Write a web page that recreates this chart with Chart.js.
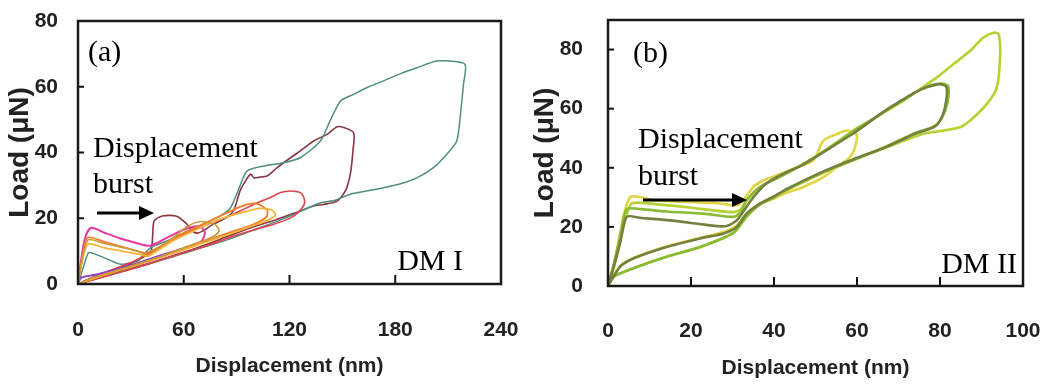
<!DOCTYPE html>
<html>
<head>
<meta charset="utf-8">
<script src="https://cdn.jsdelivr.net/npm/chart.js@4.4.1/dist/chart.umd.min.js"></script>
<style>
  html, body { margin:0; padding:0; background:#fff; }
  #wrap { position:relative; width:1049px; height:387px; overflow:hidden; }
  canvas { position:absolute; top:0; }
  #ca { left:0; }
  #cb { left:520px; }
</style>
</head>
<body>
<div id="wrap">
  <canvas id="ca" width="520" height="387"></canvas>
  <canvas id="cb" width="529" height="387"></canvas>
</div>
<script>
// ---------- Panel (a): DM I ----------
const A_X_TICKS = [0, 60, 120, 180, 240];
const A_Y_TICKS = [0, 20, 40, 60, 80];

const A_TEAL_X = [0,3,6,10,17,24,30,34,41,50,60,70,80,86.6,92,96,105.5,116,126,137.5,143,149,156.4,165,173.4,183,192.3,203.6,211,219.6,
  218.7,216.8,214.9,209.3,201.7,192.3,183,173.4,163,154.5,146,137.5,128,115,100,85,70,55,40,25,12,3,0];
const A_TEAL_Y = [0,5,9.5,9,7.5,6,6.5,7,11,13,15.5,18,20.5,23.2,30,34.4,35.9,36.8,38.4,43.5,49.6,55.7,57.7,60,61.8,64,65.8,67.8,67.8,66.8,
  60.7,50.6,43.5,39.5,35.4,32.3,30.5,29.3,28.2,27.3,25.5,24.7,22.5,19.5,16.5,13.5,11,8.5,6,3.8,2,0.5,0];

const A_MAROON_X = [0,5,15,25,35,41.3,42.3,43.2,47.9,55.5,61.1,64.9,68,72,76,80,85,88.5,92.3,97.9,99.8,103,107.4,113,120.6,126.2,133.7,141.3,147,150.7,156.4,
  156,154.5,151.7,147,139.4,133.7,125,112,100,85,70,55,40,25,12,0];
const A_MAROON_Y = [0,1.2,3,5,7.5,10,14.1,19.2,20.7,20.7,18.6,16.1,15.5,16.5,18,19,20.5,22.5,28.8,33.4,32.3,32.5,32.9,35.4,38.4,40.5,43.5,45.5,47.8,47.6,46,
  40.5,33.4,28.3,25.2,24.2,23.7,22,19.5,17.5,14.5,11.5,8.8,6.2,4,2,0];

const A_RED_X = [0,8,20,32,42,50,58,66,75,85,95,103,109.2,114.9,120.6,126.2,128.1,128.5,127.2,122.5,116.8,111.1,100,88,75,60,45,30,15,0];
const A_RED_Y = [0,2,4.5,7,10,12.5,14.5,16.5,18.5,20.5,23,25,26.3,27.8,28.3,27.8,26.3,24.5,23.2,20.7,19.2,18.2,16.5,14.5,12,9.5,7,4.5,2.2,0];

const A_ORANGE_X = [0,2,5.5,15,25,35,39.4,45,52,60,70,80,90,96,101,105,107.5,107,103,95,85,72,60,45,30,15,0];
const A_ORANGE_Y = [0,7,14.1,12.8,11.3,9.8,9,10.5,13,15.5,18,20.5,23,24.2,24.5,23.5,22.2,20.5,19,17.2,15.5,13,10.5,7.8,5.2,2.8,0];

const A_YELLOW_X = [0,2,5.5,15,25,35,40,46,55,65,75,85,95,103,110,112,108,98,85,70,55,40,25,12,0];
const A_YELLOW_Y = [0,6,12.1,11,10,9,8.5,10.5,13.5,16,18.5,20.5,22,23,22.5,21,19.5,17.5,15,12.3,9.5,7,4.5,2.3,0];

const A_GOLD_X = [0,3,6,15,28,38,45,55,62,70,78,80,75,65,50,35,20,8,0];
const A_GOLD_Y = [0,9,13.5,12.3,10.8,9.5,11,14.5,17.5,19,18,16,14,12,9,6.3,3.8,1.8,0];

const A_MAGENTA_X = [0,2,4,7.4,15,25,33,40.4,45,52,60,66,70,72,70,62,50,40,31.9,20,10,1.7,0];
const A_MAGENTA_Y = [0,8,14,17.1,15.6,13.7,12.5,11.6,12.5,14.5,16.5,17.5,17.3,15.5,13,11.2,9.2,7.5,6,4.2,2.8,1.9,0];

// ---------- Panel (b): DM II ----------
const B_X_TICKS = [0, 20, 40, 60, 80, 100];
const B_Y_TICKS = [0, 20, 40, 60, 80];

const B_YELLOW_X = [0,1.5,2.8,3.8,5.3,8,10.9,18,27,31,32.6,35,37.4,40.6,45.5,49.5,51.9,55.1,57.5,59.9,
  59.5,58.3,55.1,51.9,47.1,43,40.6,36.6,33.4,31,27.8,22.2,14.1,6.1,2.9,0];
const B_YELLOW_Y = [0,8,17,24,30.1,30,29,28.5,27.9,27.3,29,33.5,35.7,37.4,40.2,42.5,49.2,51.4,52.6,51.4,
  46.9,43.6,40.2,36.8,33.5,31.5,30.1,27.9,24.5,20.5,18.3,16.3,13.4,9.5,6.7,0];

const B_LIME_X = [0,1.5,3,4.5,5.8,10.9,20,30,32,33.4,36.6,41.5,47.1,51.1,55,59.1,63.1,67.2,71.2,75,79.2,83.2,87.2,90.4,92.9,94.1,
  94.5,93.7,91.3,87.2,84.8,80.8,76,67.2,59.1,51.1,43.1,40.6,36.6,33.4,30.2,22.2,14.1,6.1,1.3,0];
const B_LIME_Y = [0,7,16,24,28,27.8,26.5,25,26,29,33.5,37,41.3,44.7,48.5,52.6,55.9,59.3,62.7,66.5,70.5,75,79.5,84,85.7,85.2,
  78.4,67.2,61.6,55.9,53.7,52.6,51.5,46.9,42.5,37.8,32.4,30,27.6,23.5,18,13.2,9.9,6,3.1,0];

const B_GREEN_X = [0,1.5,3,4.5,8,14,23,30.2,32,33.4,36.6,41.5,47.1,51.1,55,59.1,63.1,67.2,71.2,75,78,80.5,82,
  81.8,80.5,78.5,74,67,59,51,43,40,36.6,33.4,30.2,22.2,14.1,6.1,1.3,0];
const B_GREEN_Y = [0,8,17,26,26,25.2,24.5,23.4,25,29,33.5,37,41.3,44.7,48.3,52.3,55.9,59.6,62.9,66.3,68,68.5,67.5,
  62,57,54,51.8,47.2,42.6,38,32.5,30,27.6,23.5,18,13.2,9.9,6,3.1,0];

const B_OLIVE_X = [0,1.5,3,4.5,8,14.9,22,27,29,31,33,35,38,42,47,51,55,59,63.1,67,71.2,74,76.8,80,81.6,
  81.2,80,78.4,74,67,59,51,43,40,36.6,33.4,31,27.8,22.2,14.1,6.1,2.9,0];
const B_OLIVE_Y = [0,7,15,23.4,23,22.2,21,20.2,20.5,22.2,26,30,34.5,37.8,41,44.5,48,51.5,55.6,59.5,63.2,65.5,67.2,68.3,67.2,
  60.4,55.9,53.7,51.5,47,42.8,38.2,32.8,30.3,27.9,24.5,20,17.8,16.1,13.2,9.3,6.5,0];

// ---------- helpers ----------
const SANS = "'Liberation Sans', Arial, sans-serif";
const SERIF = "'Liberation Serif', 'Times New Roman', serif";

function pts(xs, ys) { return xs.map((x, i) => ({ x: x, y: ys[i] })); }
function ds(xs, ys, color, width) {
  return { data: pts(xs, ys), borderColor: color, borderWidth: width, pointRadius: 0,
           tension: 0.25, fill: false, showLine: true };
}
function noPad(s) { s.paddingTop = 0; s.paddingBottom = 0; s.paddingLeft = 0; s.paddingRight = 0; }

const decorPlugin = {
  id: 'decor',
  afterDraw(chart, args, o) {
    const ctx = chart.ctx, a = chart.chartArea;
    const xs = chart.scales.x, ys = chart.scales.y;
    ctx.save();
    ctx.strokeStyle = '#111'; ctx.lineWidth = 2;
    xs.ticks.forEach(t => {
      if (t.value <= xs.min || t.value >= xs.max) return;
      const px = xs.getPixelForValue(t.value);
      ctx.beginPath(); ctx.moveTo(px, a.bottom); ctx.lineTo(px, a.bottom - o.xTickLen); ctx.stroke();
    });
    ys.ticks.forEach(t => {
      if (t.value <= ys.min || t.value >= ys.max) return;
      const py = ys.getPixelForValue(t.value);
      ctx.beginPath(); ctx.moveTo(a.left, py); ctx.lineTo(a.left + o.yTickLen, py); ctx.stroke();
    });
    ctx.strokeStyle = '#1a1a1a'; ctx.lineWidth = 2.5;
    ctx.strokeRect(a.left, a.top, a.right - a.left, a.bottom - a.top);
    ctx.fillStyle = '#000';
    ctx.font = '30px ' + SERIF;
    ctx.textAlign = 'left'; ctx.textBaseline = 'alphabetic';
    ctx.fillText(o.tag, a.left + o.tagDx, a.top + o.tagDy);
    ctx.fillText('Displacement', a.left + o.txtDx, a.top + o.txtDy1);
    ctx.fillText('burst', a.left + o.txtDx, a.top + o.txtDy2);
    ctx.textAlign = 'right';
    ctx.fillText(o.dm, a.right - o.dmDx, a.bottom - o.dmDy);
    const x0 = a.left + o.arX0, x1 = a.left + o.arX1, y = a.top + o.arY;
    ctx.strokeStyle = '#000'; ctx.lineWidth = 3;
    ctx.beginPath(); ctx.moveTo(x0, y); ctx.lineTo(x1 - 12, y); ctx.stroke();
    ctx.beginPath(); ctx.moveTo(x1, y); ctx.lineTo(x1 - 15, y - 7); ctx.lineTo(x1 - 15, y + 7); ctx.closePath(); ctx.fill();
    ctx.restore();
  }
};

function makeChart(id, datasets, cfg) {
  return new Chart(document.getElementById(id), {
    type: 'line',
    data: { datasets: datasets },
    plugins: [decorPlugin],
    options: {
      responsive: false, animation: false, devicePixelRatio: 1,
      layout: { padding: { top: cfg.padTop, right: cfg.padRight, left: 0, bottom: 0 } },
      plugins: { legend: { display: false }, tooltip: { enabled: false }, decor: cfg.decor },
      scales: {
        x: {
          type: 'linear', min: cfg.xTicks[0], max: cfg.xTicks[cfg.xTicks.length - 1],
          afterFit: s => { s.height = cfg.xAxisH; noPad(s); },
          afterBuildTicks: s => { s.ticks = cfg.xTicks.map(v => ({ value: v })); },
          grid: { display: false, drawTicks: false },
          border: { display: false },
          ticks: { padding: cfg.xTickPad, color: '#222', maxRotation: 0, autoSkip: false,
                   font: { family: SANS, size: 21, weight: 'bold', lineHeight: 1.2 } },
          title: { display: true, text: 'Displacement (nm)', color: '#222',
                   font: { family: SANS, size: 21, weight: 'bold', lineHeight: 1.2 },
                   padding: { top: 0, bottom: cfg.xTitlePad } }
        },
        y: {
          type: 'linear', min: 0, max: cfg.yMax,
          afterFit: s => { s.width = cfg.yAxisW; noPad(s); },
          afterBuildTicks: s => { s.ticks = cfg.yTicks.map(v => ({ value: v })); },
          grid: { display: false, drawTicks: false },
          border: { display: false },
          ticks: { padding: cfg.yTickPad, color: '#222', autoSkip: false,
                   font: { family: SANS, size: 21, weight: 'bold', lineHeight: 1.2 } },
          title: { display: true, text: 'Load (μN)', color: '#222',
                   font: { family: SANS, size: 28, weight: 'bold', lineHeight: 1.2 },
                   padding: { top: cfg.yTitlePad, bottom: 0 } }
        }
      }
    }
  });
}

const magenta = ds(A_MAGENTA_X, A_MAGENTA_Y, '#e23a9e', 2);
magenta.segment = { borderColor: c => c.p0DataIndex >= 16 ? '#8a3fc4' : '#e23a9e' };

makeChart('ca', [
  ds(A_GOLD_X, A_GOLD_Y, '#c99a3a', 1.6),
  ds(A_YELLOW_X, A_YELLOW_Y, '#f4b43a', 1.8),
  ds(A_ORANGE_X, A_ORANGE_Y, '#ef7d2a', 1.8),
  magenta,
  ds(A_RED_X, A_RED_Y, '#e2404a', 1.6),
  ds(A_TEAL_X, A_TEAL_Y, '#4f8f80', 1.5),
  ds(A_MAROON_X, A_MAROON_Y, '#8a3540', 1.6)
], {
  xTicks: A_X_TICKS, yTicks: A_Y_TICKS, yMax: 80,
  padTop: 21, padRight: 19, yAxisW: 78, xAxisH: 103,
  xTickPad: 34, yTickPad: 20, xTitlePad: 8, yTitlePad: 3,
  decor: { tag: '(a)', dm: 'DM I', tagDx: 10, tagDy: 40, txtDx: 15, txtDy1: 136, txtDy2: 172,
           dmDx: 38, dmDy: 14, arX0: 19, arX1: 76, arY: 192, xTickLen: 9, yTickLen: 6 }
});

makeChart('cb', [
  ds(B_OLIVE_X, B_OLIVE_Y, '#76803e', 2.6),
  ds(B_GREEN_X, B_GREEN_Y, '#88bc34', 2.6),
  ds(B_YELLOW_X, B_YELLOW_Y, '#e3d444', 2.6),
  ds(B_LIME_X, B_LIME_Y, '#b4d232', 2.6)
], {
  xTicks: B_X_TICKS, yTicks: B_Y_TICKS, yMax: 90,
  padTop: 20, padRight: 26, yAxisW: 88, xAxisH: 101,
  xTickPad: 33, yTickPad: 25, xTitlePad: 6, yTitlePad: 8,
  decor: { tag: '(b)', dm: 'DM II', tagDx: 25, tagDy: 42, txtDx: 30, txtDy1: 128, txtDy2: 165,
           dmDx: 6, dmDy: 13, arX0: 35, arX1: 139, arY: 180, xTickLen: 9, yTickLen: 6 }
});
</script>
</body>
</html>
